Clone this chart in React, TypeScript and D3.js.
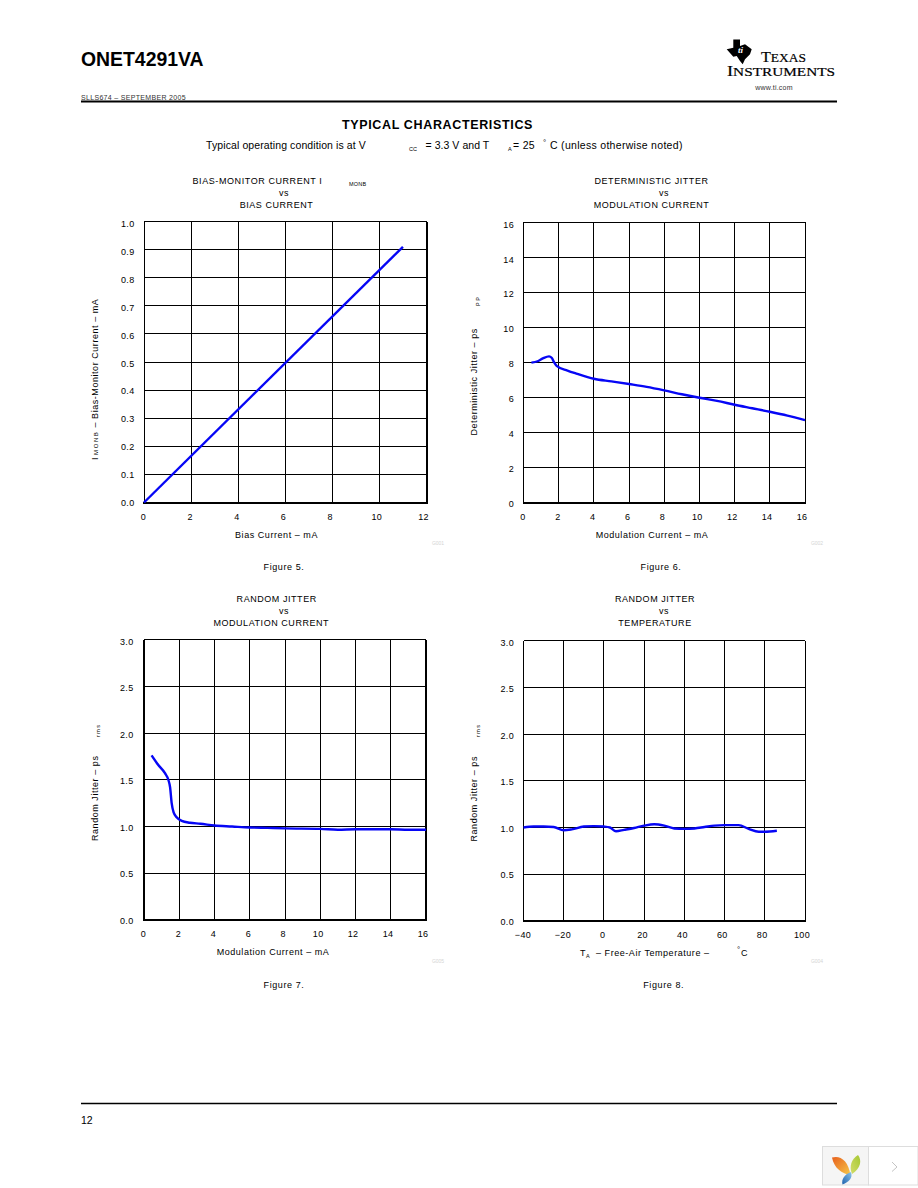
import React from "react";
import * as d3 from "d3";

const FONT = "'Liberation Sans', Arial, sans-serif";

const fig5X = [0, 11];
const fig5Y = [0, 0.91];
const fig6X = [0.45, 0.8, 1.1, 1.45, 1.6, 1.75, 1.9, 2.5, 3, 4, 5, 6, 7, 8, 9, 10, 11, 12, 13, 14, 15, 16];
const fig6Y = [8, 8.08, 8.24, 8.36, 8.28, 8.0, 7.8, 7.55, 7.38, 7.08, 6.93, 6.78, 6.62, 6.42, 6.2, 6.0, 5.82, 5.6, 5.4, 5.2, 4.98, 4.72];
const fig7X = [0.43, 0.8, 1.19, 1.38, 1.48, 1.57, 1.68, 1.85, 2.14, 2.6, 3.2, 4, 5, 6, 7, 8, 10, 11, 12, 14, 15, 16];
const fig7Y = [1.76, 1.66, 1.57, 1.5, 1.42, 1.25, 1.15, 1.1, 1.06, 1.04, 1.03, 1.01, 1.0, 0.99, 0.985, 0.98, 0.975, 0.965, 0.97, 0.97, 0.965, 0.965];
const fig8X = [-40, -35, -30, -25, -20, -16, -10, -5, 0, 3, 6, 10, 15, 20, 25, 30, 35, 40, 45, 50, 55, 60, 67, 72, 77, 80, 86];
const fig8Y = [1.0, 1.01, 1.01, 1.005, 0.97, 0.98, 1.01, 1.015, 1.01, 1.0, 0.96, 0.975, 0.995, 1.02, 1.035, 1.02, 0.99, 0.985, 0.99, 1.005, 1.02, 1.025, 1.025, 0.985, 0.955, 0.955, 0.965];

const ticks5X = [0, 2, 4, 6, 8, 10, 12];
const ticks5Y = [0, 0.1, 0.2, 0.3, 0.4, 0.5, 0.6, 0.7, 0.8, 0.9, 1.0];
const ticks6X = [0, 2, 4, 6, 8, 10, 12, 14, 16];
const ticks6Y = [0, 2, 4, 6, 8, 10, 12, 14, 16];
const ticks7Y = [0, 0.5, 1.0, 1.5, 2.0, 2.5, 3.0];
const ticks8X = [-40, -20, 0, 20, 40, 60, 80, 100];

type PlotProps = {
  box: [number, number, number, number];
  xDomain: [number, number];
  yDomain: [number, number];
  xTicks: number[];
  yTicks: number[];
  yFormat: (v: number) => string;
  xs: number[];
  ys: number[];
  curved?: boolean;
  xMinus?: boolean;
  heavyLeft?: boolean;
  heavyRight?: boolean;
  labelGap?: number;
};

function Plot({ box, xDomain, yDomain, xTicks, yTicks, yFormat, xs, ys, curved, xMinus, heavyLeft, heavyRight, labelGap = 9.5 }: PlotProps) {
  const [l, t, r, b] = box;
  const x = d3.scaleLinear().domain(xDomain).range([l, r]);
  const y = d3.scaleLinear().domain(yDomain).range([b, t]);
  const xLabel = d3.scaleLinear().domain(xDomain).range([l - 0.5, r - 3]);
  const yLabel = d3.scaleLinear().domain(yDomain).range([b + 3.5, t + 5.5]);
  const line = d3
    .line<number>()
    .x((d) => x(d))
    .y((_, i) => y(ys[i]))
    .curve(curved ? d3.curveMonotoneX : d3.curveLinear);
  return (
    <g>
      <g shapeRendering="crispEdges">
        {xTicks.map((v) => (
          <line key={"x" + v} x1={x(v)} x2={x(v)} y1={t} y2={b} stroke="#000" strokeWidth={1} />
        ))}
        {yTicks.map((v) => (
          <line key={"y" + v} x1={l} x2={r} y1={y(v)} y2={y(v)} stroke="#000" strokeWidth={1} />
        ))}
        <line x1={l} x2={l} y1={t} y2={b} stroke="#000" strokeWidth={heavyLeft ? 2 : 1} />
        <line x1={r} x2={r} y1={t} y2={b} stroke="#000" strokeWidth={heavyRight ? 2 : 1} />
        <line x1={l - 1} x2={r + 1} y1={b} y2={b} stroke="#000" strokeWidth={2} />
      </g>
      <path d={line(xs) ?? ""} fill="none" stroke="#0606f5" strokeWidth={2.4} strokeLinejoin="round" />
      {xTicks.map((v) => (
        <text key={"xl" + v} x={xLabel(v)} y={b + 17} fontSize={9} textAnchor="middle" letterSpacing={0.35}>
          {xMinus && v < 0 ? "−" + Math.abs(v) : v}
        </text>
      ))}
      {yTicks.map((v) => (
        <text key={"yl" + v} x={l - labelGap} y={yLabel(v)} fontSize={9} textAnchor="end" letterSpacing={0.35}>
          {yFormat(v)}
        </text>
      ))}
    </g>
  );
}

function Center({ x, y, children, size = 9, ls = 0.55 }: any) {
  return (
    <text x={x} y={y} fontSize={size} textAnchor="middle" letterSpacing={ls}>
      {children}
    </text>
  );
}

function VLabel({ x, y, children }: any) {
  return (
    <text transform={`translate(${x},${y}) rotate(-90)`} fontSize={9} letterSpacing={0.55}>
      {children}
    </text>
  );
}

const f1 = (v: number) => v.toFixed(1);
const f0 = (v: number) => String(v);

export default function App() {
  return (
    <svg
      width={918}
      height={1188}
      viewBox="0 0 918 1188"
      style={{ position: "absolute", left: 0, top: 0, background: "#fff" }}
      fontFamily={FONT}
      fill="#000"
    >
      <defs>
        <linearGradient id="leafO" x1="0" y1="0" x2="1" y2="1">
          <stop offset="0" stopColor="#e8601c" />
          <stop offset="1" stopColor="#f6c84a" />
        </linearGradient>
        <linearGradient id="leafG" x1="1" y1="0" x2="0" y2="1">
          <stop offset="0" stopColor="#a5c832" />
          <stop offset="1" stopColor="#d3dc6a" />
        </linearGradient>
        <linearGradient id="leafB" x1="1" y1="0" x2="0" y2="1">
          <stop offset="0" stopColor="#8cc4ea" />
          <stop offset="1" stopColor="#1e62ae" />
        </linearGradient>
      </defs>

      {/* Header */}
      <text x={81} y={66} fontSize={19.4} fontWeight={700}>ONET4291VA</text>
      <text x={81} y={99.5} fontSize={7} fill="#333" letterSpacing={0.32}>SLLS674 – SEPTEMBER 2005</text>
      <line x1={81} x2={837} y1={101.5} y2={101.5} stroke="#000" strokeWidth={2} />

      {/* Logo */}
      <path
        d="M733.3 39.5 L740 39.5 L740 46 L745 44.3 L751.7 49.3 L750 54.3 L745 59.3 L742.7 64.3 L740 61 L736.7 56 L733.3 56.7 L726.7 49.3 L733.3 47.7 Z"
        fill="#000"
      />
      <text x={738} y={53} fontFamily="'Liberation Serif', serif" fontSize={9} fontStyle="italic" fontWeight={700} fill="#fff">ti</text>
      <text x={761} y={62} fontFamily="'Liberation Serif', serif" fontSize={15} textLength={45} lengthAdjust="spacingAndGlyphs" stroke="#000" strokeWidth={0.2}>
        T<tspan fontSize={12.5}>EXAS</tspan>
      </text>
      <text x={727} y={75.5} fontFamily="'Liberation Serif', serif" fontSize={15} textLength={108} lengthAdjust="spacingAndGlyphs" stroke="#000" strokeWidth={0.2}>
        I<tspan fontSize={12.5}>NSTRUMENTS</tspan>
      </text>
      <text x={774} y={90} fontSize={7} textAnchor="middle" fill="#333" letterSpacing={0.2}>www.ti.com</text>

      {/* Section heading */}
      <text x={437.5} y={128.5} fontSize={12.5} fontWeight={700} textAnchor="middle" letterSpacing={0.65}>TYPICAL CHARACTERISTICS</text>
      <text x={206} y={149} fontSize={10.5} letterSpacing={0.1}>Typical operating condition is at V</text>
      <text x={409} y={151} fontSize={5.5}>CC</text>
      <text x={425.5} y={149} fontSize={10.5} letterSpacing={0.05}>= 3.3 V and T</text>
      <text x={508} y={151} fontSize={5.5}>A</text>
      <text x={513} y={149} fontSize={10.5} letterSpacing={0.3}>= 25</text>
      <text x={543} y={145} fontSize={8}>°</text>
      <text x={550} y={149} fontSize={10.5} letterSpacing={0.3}>C (unless otherwise noted)</text>

      {/* Figure 5 */}
      <text x={192.5} y={184} fontSize={9} letterSpacing={0.58}>BIAS-MONITOR CURRENT I</text>
      <text x={349} y={186} fontSize={5.5} letterSpacing={0.2}>MONB</text>
      <Center x={284} y={195.5}>vs</Center>
      <Center x={276.5} y={208}>BIAS CURRENT</Center>
      <Plot box={[144, 221.5, 426.5, 502.5]} xDomain={[0, 12]} yDomain={[0, 1]} xTicks={ticks5X} yTicks={ticks5Y} yFormat={f1} xs={fig5X} ys={fig5Y} heavyRight />
      <Center x={276.5} y={538}>Bias Current – mA</Center>
      <text x={438} y={545} fontSize={5} textAnchor="middle" fill="#d4d4d4">G001</text>
      <Center x={284} y={570} ls={0.6}>Figure 5.</Center>
      <text transform="translate(98,460) rotate(-90)" fontSize={9} letterSpacing={0.55}>
        I<tspan fontSize={6} dx={2} letterSpacing={1.6}>MONB</tspan>
        <tspan dx={3}>– Bias-Monitor Current – mA</tspan>
      </text>

      {/* Figure 6 */}
      <Center x={651.5} y={184}>DETERMINISTIC JITTER</Center>
      <Center x={664} y={195.5}>vs</Center>
      <Center x={651.5} y={208}>MODULATION CURRENT</Center>
      <Plot box={[523.5, 222.3, 805, 503]} xDomain={[0, 16]} yDomain={[0, 16]} xTicks={ticks6X} yTicks={ticks6Y} yFormat={f0} xs={fig6X} ys={fig6Y} curved />
      <Center x={652} y={538}>Modulation Current – mA</Center>
      <text x={817} y={545} fontSize={5} textAnchor="middle" fill="#d4d4d4">G002</text>
      <Center x={661} y={570} ls={0.6}>Figure 6.</Center>
      <VLabel x={477} y={435.5}>Deterministic Jitter – ps</VLabel>
      <text transform="translate(480,306) rotate(-90)" fontSize={5.5} letterSpacing={1.5}>PP</text>

      {/* Figure 7 */}
      <Center x={276.7} y={602}>RANDOM JITTER</Center>
      <Center x={284} y={614}>vs</Center>
      <Center x={271.3} y={625.5}>MODULATION CURRENT</Center>
      <Plot box={[144, 639.5, 426, 920]} xDomain={[0, 16]} yDomain={[0, 3]} xTicks={ticks6X} yTicks={ticks7Y} yFormat={f1} xs={fig7X} ys={fig7Y} curved heavyLeft heavyRight labelGap={10.5} />
      <Center x={273} y={954.5}>Modulation Current – mA</Center>
      <text x={438} y={963} fontSize={5} textAnchor="middle" fill="#d4d4d4">G005</text>
      <Center x={284} y={988} ls={0.6}>Figure 7.</Center>
      <VLabel x={98} y={841}>Random Jitter – ps</VLabel>
      <text transform="translate(100,737) rotate(-90)" fontSize={5.5} letterSpacing={1.4}>rms</text>

      {/* Figure 8 */}
      <Center x={655} y={602}>RANDOM JITTER</Center>
      <Center x={664} y={614}>vs</Center>
      <Center x={655} y={626}>TEMPERATURE</Center>
      <Plot box={[523.5, 640.5, 805, 921]} xDomain={[-40, 100]} yDomain={[0, 3]} xTicks={ticks8X} yTicks={ticks7Y} yFormat={f1} xs={fig8X} ys={fig8Y} curved xMinus />
      <text x={580} y={956} fontSize={9} letterSpacing={0.25}>T</text>
      <text x={586} y={958} fontSize={5.5}>A</text>
      <text x={596} y={956} fontSize={9} letterSpacing={0.55}>– Free-Air Temperature –</text>
      <text x={737} y={952} fontSize={8}>°</text>
      <text x={741} y={956} fontSize={9}>C</text>
      <text x={817} y={963} fontSize={5} textAnchor="middle" fill="#d4d4d4">G004</text>
      <Center x={663.7} y={988} ls={0.6}>Figure 8.</Center>
      <VLabel x={477} y={841.5}>Random Jitter – ps</VLabel>
      <text transform="translate(480,737) rotate(-90)" fontSize={5.5} letterSpacing={1.4}>rms</text>

      {/* Footer */}
      <line x1={81} x2={837} y1={1103.5} y2={1103.5} stroke="#000" strokeWidth={1.6} />
      <text x={81} y={1124} fontSize={10.5}>12</text>

      {/* Viewer widget */}
      <rect x={822.5} y={1146.5} width={46} height={38.5} fill="#f5f5f5" stroke="#ddd" />
      <rect x={868.5} y={1146.5} width={49.5} height={38.5} fill="#fff" stroke="#ddd" />
      <path d="M832 1157.5 C840 1155 848 1160 850.5 1175 C842 1174 834 1168 832 1157.5 Z" fill="url(#leafO)" />
      <path d="M858 1155 C862 1160 861 1168 852 1174 C849 1167 851 1159 858 1155 Z" fill="url(#leafG)" />
      <path d="M851 1172 C853 1178 849 1182 842.5 1184.5 C841 1179 845 1174 851 1172 Z" fill="url(#leafB)" />
      <path d="M892 1162 L897 1167 L892 1171.5" fill="none" stroke="#c4c4c4" strokeWidth={1} />
    </svg>
  );
}
